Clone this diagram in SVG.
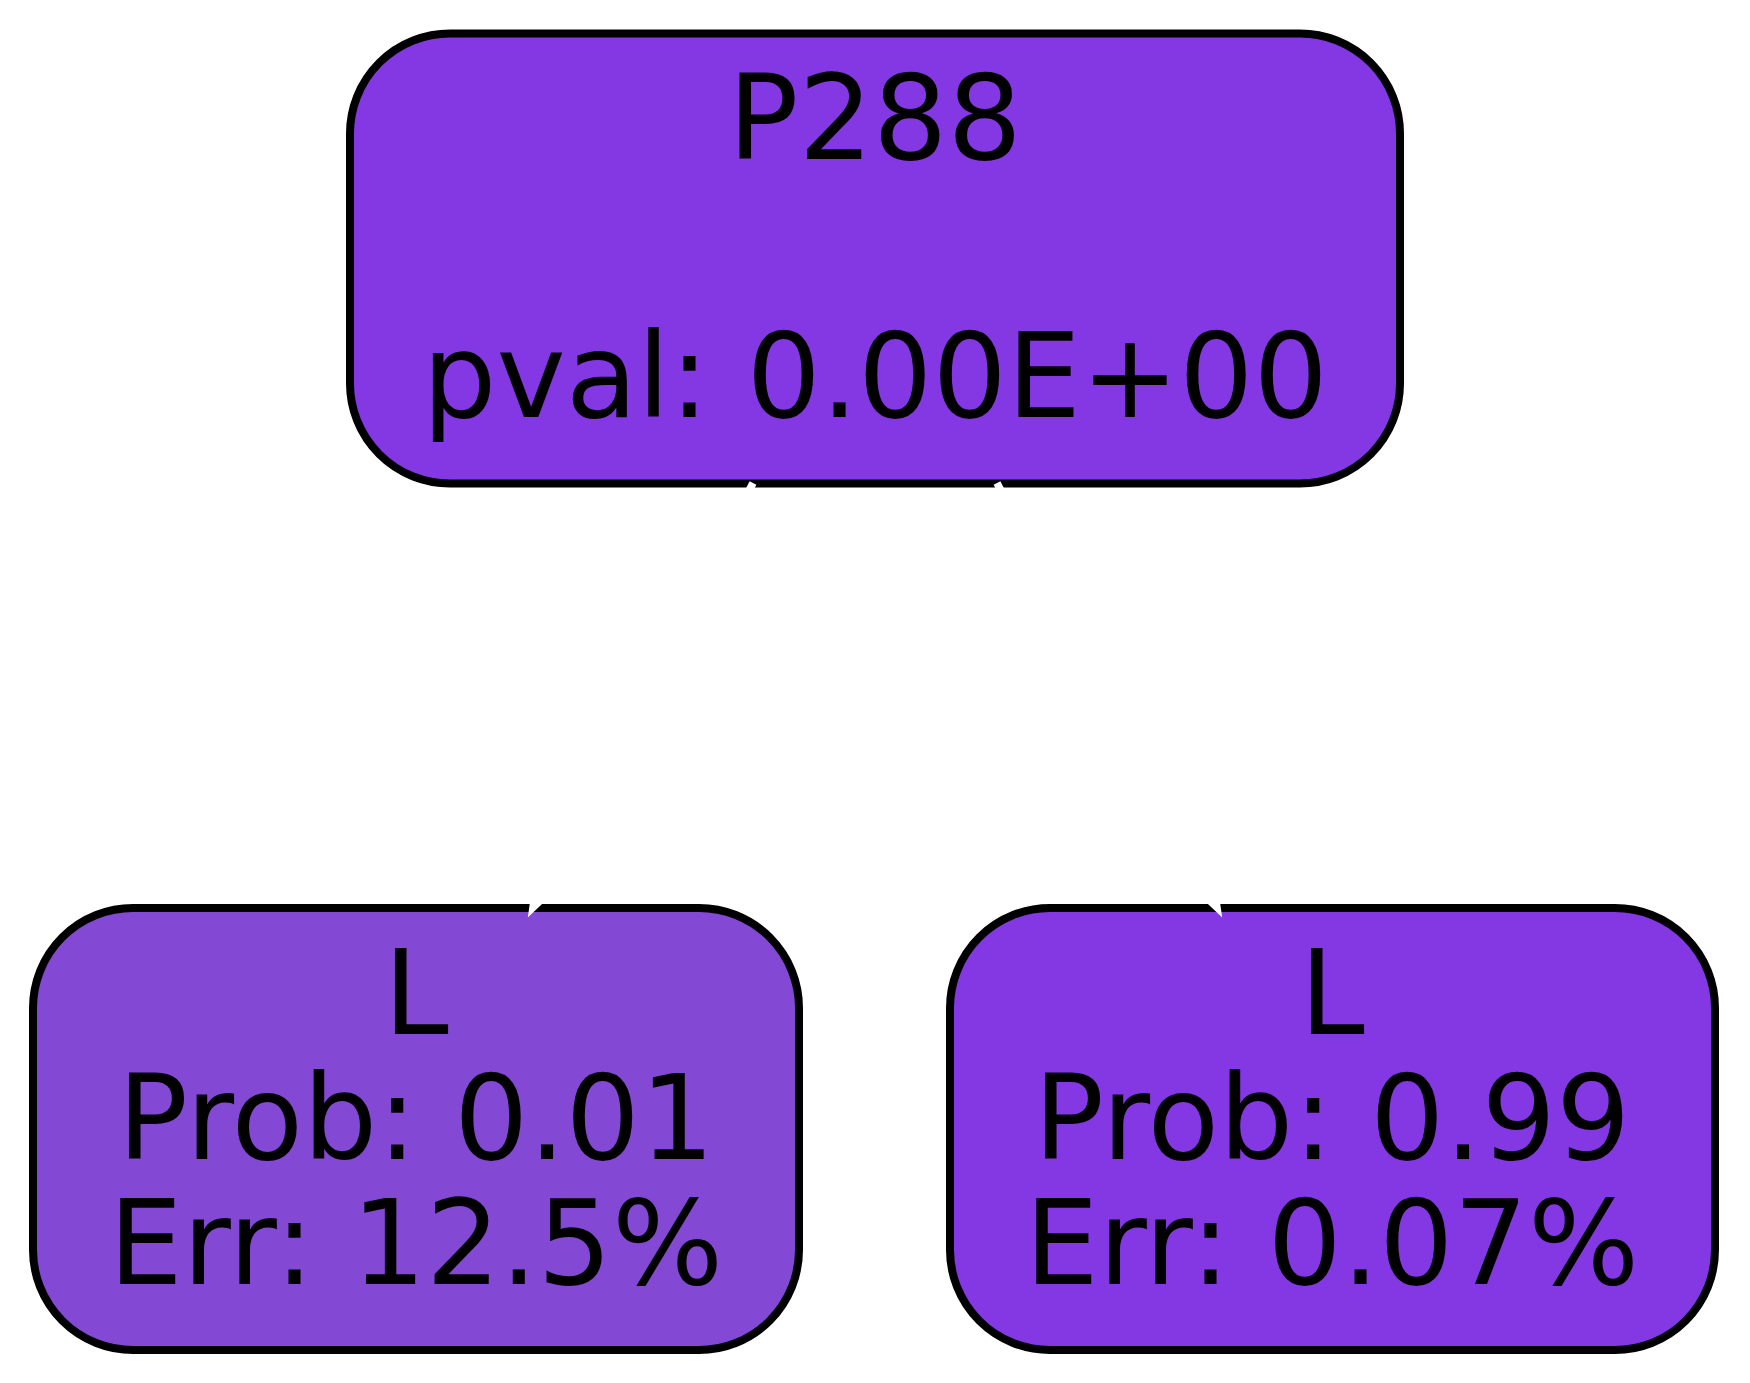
<svg xmlns="http://www.w3.org/2000/svg" width="1750" height="1383" viewBox="0 0 1750 1383">
<style>
.node rect { stroke: #000000; stroke-width: 8; }
.node text { font-family: "DejaVu Sans", sans-serif; font-size: 117px; fill: #000000; text-anchor: middle; }
.edge line { stroke: #ffffff; stroke-width: 7.6; }
.edge polygon { fill: #ffffff; stroke: #ffffff; stroke-width: 7.6; }
</style>
<rect width="1750" height="1383" fill="#ffffff"/>
<g id="node-P288" class="node">
  <rect x="350" y="33.5" width="1050" height="450" rx="100" ry="100" fill="#8338e4"/>
  <text x="875" y="159">P288</text>
  <text x="875" y="417">pval: 0.00E+00</text>
</g>
<g id="node-L-left" class="node">
  <rect x="33" y="908" width="766" height="442" rx="100" ry="100" fill="#8348d4"/>
  <text x="416" y="1034">L</text>
  <text x="416" y="1159">Prob: 0.01</text>
  <text x="416" y="1284">Err: 12.5%</text>
</g>
<g id="node-L-right" class="node">
  <rect x="950" y="908" width="765" height="442" rx="100" ry="100" fill="#8338e4"/>
  <text x="1332" y="1034">L</text>
  <text x="1332" y="1159">Prob: 0.99</text>
  <text x="1332" y="1284">Err: 0.07%</text>
</g>
<g id="connectors" class="edge">
  <line x1="753" y1="483" x2="568.1" y2="839.7"/>
  <polygon points="533.1,907.2 591.7,851.9 544.5,827.5"/>
  <line x1="997" y1="483" x2="1181.9" y2="839.7"/>
  <polygon points="1216.9,907.2 1205.5,827.5 1158.3,851.9"/>
</g>
</svg>
